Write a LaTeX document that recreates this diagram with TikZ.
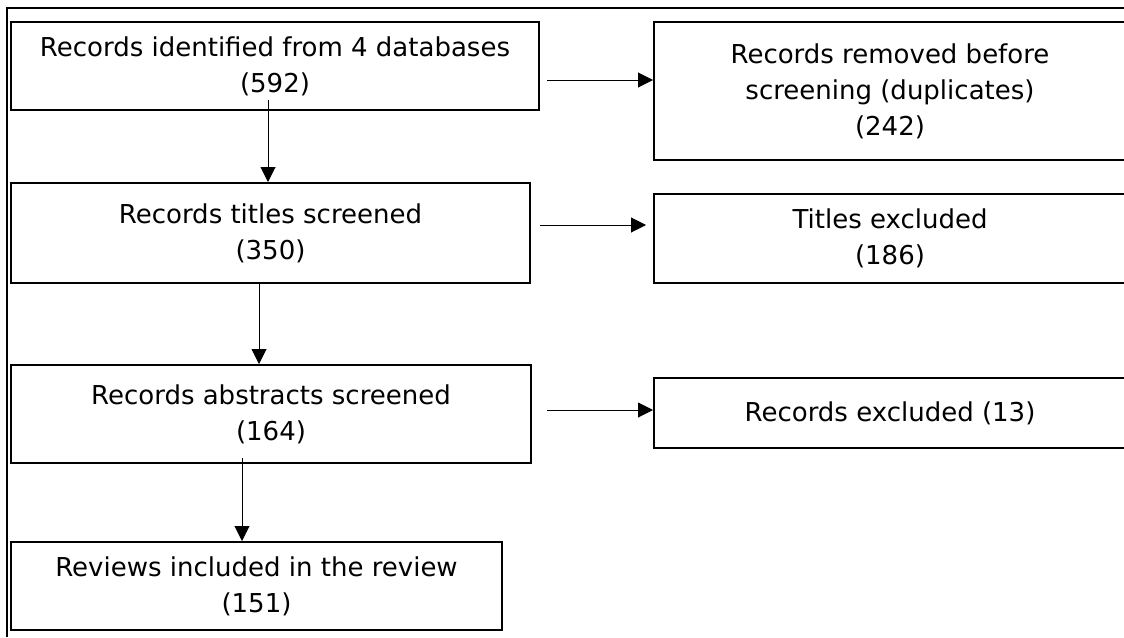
\documentclass[tikz,border=0pt]{standalone}
\usepackage{fontspec}
\setmainfont{DejaVu Sans}
\usetikzlibrary{arrows.meta}

\begin{document}
\begin{tikzpicture}[x=1pt, y=-1pt,
  box/.style={rectangle, draw, line width=2pt, inner sep=0pt, align=center,
    font=\fontsize{26pt}{36pt}\selectfont},
  arr/.style={line width=1pt, -{Triangle[length=15pt, width=15pt]}}]
\useasboundingbox (0,0) rectangle (1124,637);
\draw[line width=2pt] (7,637) -- (7,8) -- (1124,8);

\node[box, minimum width=528pt, minimum height=88pt] (ident) at (275,66) {Records identified from 4 databases\\(592)};
\node[box, minimum width=472pt, minimum height=138pt] (dupl) at (890,91) {Records removed before\\screening (duplicates)\\(242)};
\node[box, minimum width=519pt, minimum height=100pt] (titles) at (270.5,233) {Records titles screened\\(350)};
\node[box, minimum width=472pt, minimum height=89pt] (titlesex) at (890,238.5) {Titles excluded\\(186)};
\node[box, minimum width=520pt, minimum height=98pt] (abstracts) at (271,414) {Records abstracts screened\\(164)};
\node[box, minimum width=472pt, minimum height=70pt] (recex) at (890,413) {Records excluded (13)};
\node[box, minimum width=491pt, minimum height=88pt] (incl) at (256.5,586) {Reviews included in the review\\(151)};

\draw[arr] ([shift={(-7pt,11pt)}]ident.south) -- ([xshift=-7pt]ident.south |- titles.north);
\draw[arr] ([xshift=-11.5pt]titles.south) -- ([xshift=-11.5pt]titles.south |- abstracts.north);
\draw[arr] ([shift={(-29pt,6pt)}]abstracts.south) -- ([xshift=-29pt]abstracts.south |- incl.north);

\draw[arr] ([shift={(7pt,-14pt)}]ident.east) -- ([yshift=-14pt]ident.east -| dupl.west);
\draw[arr, shorten >=7pt] ([shift={(9pt,8pt)}]titles.east) -- ([yshift=8pt]titles.east -| titlesex.west);
\draw[arr] ([shift={(15pt,4pt)}]abstracts.east) -- ([yshift=4pt]abstracts.east -| recex.west);
\end{tikzpicture}
\end{document}
